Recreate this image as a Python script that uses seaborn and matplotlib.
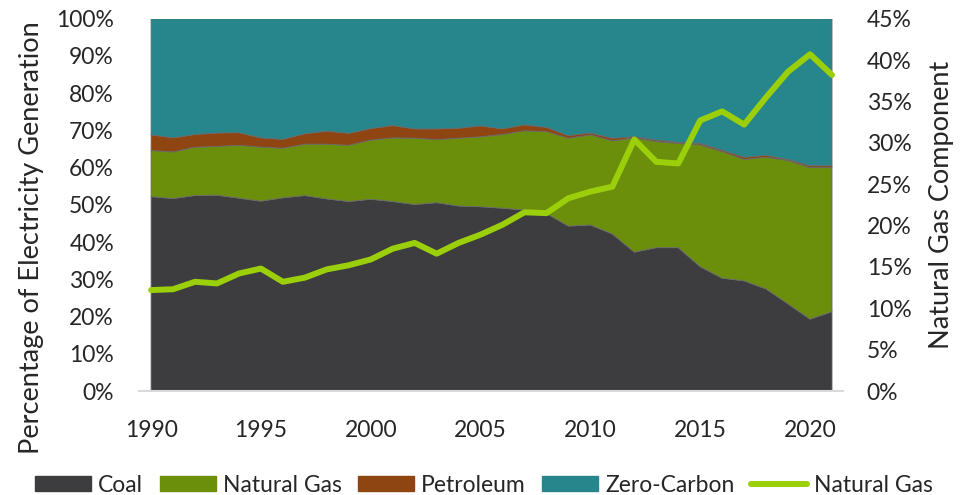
import matplotlib
matplotlib.use("Agg")
import matplotlib.pyplot as plt
import seaborn as sns
import pandas as pd
from matplotlib.ticker import FuncFormatter, MultipleLocator
from matplotlib.patches import Patch
from matplotlib.lines import Line2D

years = list(range(1990, 2022))
coal = [52.2, 51.7, 52.5, 52.6, 51.8, 51.0, 51.9, 52.5, 51.6, 50.9, 51.5,
        50.9, 50.1, 50.6, 49.7, 49.5, 49.1, 48.6, 47.7, 44.3, 44.6,
        42.2, 37.3, 38.5, 38.5, 33.4, 30.3, 29.6, 27.4, 23.4, 19.3, 21.3]
natural_gas = [12.4, 12.5, 13.0, 13.1, 14.2, 14.5, 13.3, 13.8, 14.7, 15.1, 15.9,
               17.1, 17.8, 16.9, 18.2, 18.8, 19.8, 21.3, 22.0, 23.6, 24.2,
               25.0, 30.7, 28.5, 28.0, 32.7, 34.0, 32.6, 35.4, 38.5, 40.7, 38.7]
petroleum = [4.2, 3.8, 3.4, 3.6, 3.4, 2.5, 2.4, 2.8, 3.5, 3.2, 3.1,
             3.3, 2.5, 2.9, 2.7, 2.9, 1.5, 1.6, 1.1, 0.7, 0.5,
             0.7, 0.3, 0.4, 0.3, 0.4, 0.4, 0.6, 0.5, 0.3, 0.5, 0.5]
zero_carbon = [31.2, 32.0, 31.1, 30.7, 30.6, 32.0, 32.4, 30.9, 30.2, 30.8, 29.5,
               28.7, 29.6, 29.6, 29.4, 28.8, 29.6, 28.5, 29.2, 31.4, 30.7,
               32.1, 31.7, 32.6, 33.2, 33.5, 35.3, 37.2, 36.7, 37.8, 39.5, 39.5]
gas_component = [12.2, 12.3, 13.2, 13.0, 14.2, 14.8, 13.2, 13.7, 14.7, 15.2, 15.9,
                 17.2, 17.9, 16.6, 17.9, 18.9, 20.1, 21.6, 21.5, 23.3, 24.1,
                 24.7, 30.4, 27.7, 27.5, 32.7, 33.8, 32.2, 35.5, 38.6, 40.7, 38.2]

series_names = ["Coal", "Natural Gas", "Petroleum", "Zero-Carbon"]
colors = ["#3d3d3f", "#6b8e0b", "#8f4512", "#26868c"]
line_color = "#9bcf0a"

sns.set_theme(style="white")
plt.rcParams['font.family'] = ['Lato', 'DejaVu Sans']
FS = 16.5
LFS = 19.5

df = pd.DataFrame({"Year": years, "Natural Gas Component": gas_component})

fig = plt.figure(figsize=(9.68, 4.95), dpi=100)
ax = fig.add_axes([139/968, 1 - 391/495, (843 - 139)/968, (391 - 18.7)/495])

ax.stackplot(years, coal, natural_gas, petroleum, zero_carbon,
             colors=colors, linewidth=0.6,
             edgecolor=["#6a6a6a", "#8aa54a", "#b0703c", "#4a9ea3"])
ax.set_xlim(1989.45, 2021.5)
ax.set_ylim(0, 100)
ax.yaxis.set_major_locator(MultipleLocator(10))
ax.yaxis.set_major_formatter(FuncFormatter(lambda v, p: f"{v:.0f}%"))
ax.set_xticks([1990, 1995, 2000, 2005, 2010, 2015, 2020])
ax.set_xlabel("")

ax2 = ax.twinx()
sns.lineplot(data=df, x="Year", y="Natural Gas Component", ax=ax2,
             color=line_color, linewidth=4.3, solid_capstyle="round")
ax2.set_ylim(0, 45)
ax2.yaxis.set_major_locator(MultipleLocator(5))
ax2.yaxis.set_major_formatter(FuncFormatter(lambda v, p: f"{v:.0f}%"))
ax2.set_xlabel("")
ax2.set_ylabel("")
ax2.set_xlim(1989.45, 2021.5)

for a in (ax, ax2):
    for s in a.spines.values():
        s.set_visible(False)
    a.tick_params(length=0, labelsize=FS)
    a.grid(False)
ax.spines["bottom"].set_visible(True)
ax.spines["bottom"].set_color("#d9d9d9")
ax.spines["bottom"].set_linewidth(1.5)
ax.tick_params(axis="y", pad=18)
ax.tick_params(axis="x", pad=21)
ax2.tick_params(axis="y", pad=17)

fig.text(32/968, 1 - 238/495, "Percentage of Electricity Generation",
         rotation=90, ha="center", va="center", fontsize=LFS)
fig.text(941/968, 1 - 205/495, "Natural Gas Component",
         rotation=90, ha="center", va="center", fontsize=LFS)

handles = [Patch(facecolor=c, edgecolor=c) for c in colors]
handles.append(Line2D([0], [0], color=line_color, linewidth=4.3))
labels = series_names + ["Natural Gas"]
fig.legend(handles, labels, loc="center", bbox_to_anchor=(0.5, 1 - 485/495),
           ncol=5, frameon=False, fontsize=FS, handlelength=2.45,
           handleheight=0.65, handletextpad=0.3, columnspacing=0.72,
           borderaxespad=0, borderpad=0)

fig.savefig("out.png", dpi=100)
